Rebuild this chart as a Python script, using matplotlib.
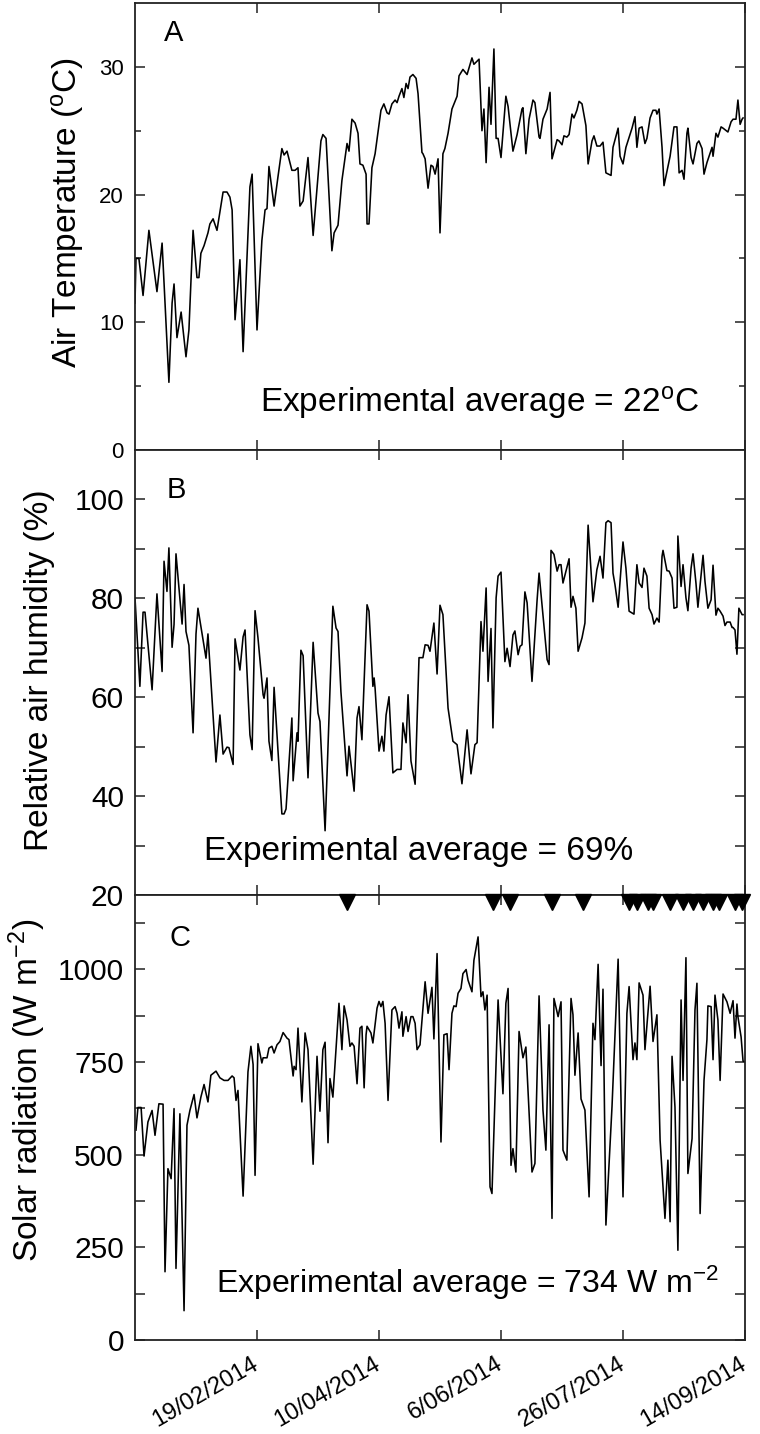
import matplotlib
matplotlib.use("Agg")
import matplotlib.pyplot as plt
from matplotlib.ticker import FixedLocator

plt.rcParams['font.family'] = ['Liberation Sans', 'DejaVu Sans']
plt.rcParams['mathtext.fontset'] = 'custom'
plt.rcParams['mathtext.rm'] = 'Liberation Sans'
plt.rcParams['mathtext.it'] = 'Liberation Sans:italic'
plt.rcParams['mathtext.bf'] = 'Liberation Sans:bold'

# ---------------- data (days since 31/12/2013) ----------------
temp_day = [0.0, 0.4, 1.6, 3.3, 5.7, 9.0, 11.1, 13.9, 15.2, 16.0, 17.2, 18.9, 20.9, 22.1,
            23.8, 25.4, 26.2, 27.0, 28.3, 29.9, 30.7, 32.0, 33.6, 36.1, 37.7, 38.9, 39.8,
            41.0, 43.0, 44.3, 47.1, 48.0, 50.0, 52.0, 53.3, 54.1, 54.9, 57.0, 58.6, 60.2,
            61.1, 62.3, 64.3, 65.6, 66.8, 67.6, 68.9, 70.9, 73.0, 76.2, 77.0, 78.3, 80.7,
            81.6, 83.2, 84.8, 86.9, 87.7, 88.9, 90.2, 91.4, 92.2, 93.4, 94.7, 95.1, 95.9,
            97.1, 98.4, 100.8, 102.0, 103.3, 104.1, 105.3, 106.6, 107.4, 108.2, 109.4,
            110.2, 111.1, 111.9, 112.7, 113.9, 115.2, 116.0, 117.6, 118.0, 118.9, 120.1,
            121.3, 122.1, 123.0, 124.2, 125.0, 126.2, 127.0, 128.3, 129.9, 132.0, 132.8,
            134.4, 136.1, 138.1, 138.9, 141.0, 142.2, 143.0, 143.9, 145.1, 145.9, 147.1,
            148.0, 148.8, 150.0, 152.0, 152.9, 154.9, 156.6, 158.6, 159.0, 160.2, 161.5,
            163.1, 163.9, 165.6, 166.0, 167.2, 168.9, 170.1, 170.9, 173.0, 173.8, 175.0,
            175.8, 177.0, 177.9, 179.1, 179.9, 181.1, 182.0, 183.2, 184.8, 185.7, 187.3,
            188.1, 189.3, 190.6, 191.8, 193.0, 195.1, 195.9, 198.0, 198.8, 200.0, 201.2,
            203.7, 204.9, 205.7, 206.6, 207.8, 209.0, 209.8, 211.1, 212.3, 213.5, 213.9,
            214.8, 216.0, 216.8, 219.3, 220.9, 222.1, 223.0, 224.2, 225.0, 226.2, 226.6,
            227.9, 228.7, 230.3, 231.1, 232.4, 233.2, 234.4, 236.5, 236.9, 238.1, 238.9,
            240.2, 241.0, 243.0, 244.3, 245.1, 246.3, 247.1, 248.0, 248.8, 249.2]
temp_val = [11.5, 15.0, 15.0, 12.1, 17.2, 12.4, 16.2, 5.3, 11.5, 13.0, 8.8, 10.8, 7.3, 9.4,
            17.2, 13.5, 13.5, 15.4, 16.0, 17.0, 17.7, 18.1, 17.2, 20.2, 20.2, 19.8, 18.8,
            10.2, 14.9, 7.7, 20.6, 21.6, 9.4, 16.4, 18.8, 18.9, 22.2, 19.1, 21.4, 23.6,
            23.1, 23.4, 21.9, 21.9, 22.1, 19.1, 19.5, 22.9, 16.8, 24.2, 24.7, 24.4, 15.6,
            17.0, 17.6, 21.1, 24.0, 23.4, 25.9, 25.6, 24.8, 22.4, 22.3, 21.6, 17.7, 17.7,
            22.1, 23.2, 26.6, 27.1, 26.4, 26.3, 27.1, 27.4, 27.2, 27.7, 28.3,
            27.6, 28.7, 28.3, 29.2, 29.4, 29.1, 27.9, 23.3, 23.2, 22.8, 20.5,
            22.3, 22.2, 21.6, 22.8, 17.0, 23.2, 23.6, 24.8, 26.7, 27.7, 29.3,
            29.8, 29.4, 30.7, 30.2, 30.6, 25.0, 26.7, 22.5, 28.4, 25.5, 31.4,
            24.4, 24.4, 22.9, 27.7, 26.9, 23.4, 24.7, 26.7, 26.8, 23.2, 25.9,
            27.4, 27.2, 24.5, 24.4, 25.9, 26.7, 28.0, 22.8, 24.3, 24.2, 23.9,
            24.6, 24.5, 24.7, 26.3, 26.0, 26.6, 27.3, 27.1, 25.4, 22.4, 24.2,
            24.6, 23.8, 23.8, 24.1, 21.7, 21.5, 23.7, 25.2, 23.0, 22.4, 23.7,
            25.2, 26.1, 23.7, 25.2, 25.3, 24.0, 24.4, 26.0, 26.6, 26.6, 26.3,
            26.7, 23.7, 20.7, 23.0, 25.3, 25.3, 21.7, 21.9, 21.2, 24.8, 25.2,
            22.9, 22.4, 24.0, 24.2, 23.6, 21.6, 22.5, 23.7, 23.0, 24.8, 24.5,
            25.3, 25.2, 24.9, 25.7, 25.9, 25.9, 27.4, 25.5, 25.9, 26.0]

rh_day = [0.0, 2.0, 3.3, 4.1, 7.0, 9.0, 11.1, 11.9, 13.1, 13.9, 15.2, 16.0, 16.8, 19.3, 20.1,
          20.9, 22.1, 23.8, 25.0, 25.8, 29.1, 29.9, 33.2, 34.8, 36.1, 37.7, 38.5, 40.2,
          41.0, 43.0, 44.3, 45.1, 47.1, 48.0, 49.2, 50.4, 52.5, 52.9, 54.1, 54.9, 56.1,
          57.0, 60.2, 61.1, 61.9, 64.3, 64.8, 66.4, 66.8, 68.0, 68.9, 70.9, 73.0, 75.0,
          75.8, 77.9, 81.1, 82.4, 83.2, 84.4, 86.9, 87.7, 89.8, 91.0, 91.8, 93.0, 95.1,
          95.9, 97.5, 98.0, 98.4, 100.0, 101.2, 102.0, 102.9, 104.1, 105.7, 107.4, 109.0,
          109.8, 111.1, 111.9, 113.1, 114.8, 116.4, 118.0, 118.9, 120.1, 120.9, 122.5,
          123.8, 125.0, 126.2, 128.3, 130.3, 132.0, 134.0, 136.1, 137.7, 139.3, 140.2,
          141.8, 142.6, 143.9, 144.7, 145.9, 146.7, 148.0, 148.8, 150.0, 151.6, 152.5,
          153.7, 154.9, 155.7, 157.0, 157.8, 158.6, 159.8, 160.7, 162.7, 164.8, 165.6,
          168.9, 169.7, 170.5, 171.7, 173.0, 173.8, 174.6, 175.4, 177.9, 178.7, 179.5,
          180.7, 181.6, 183.2, 184.4, 185.7, 187.7, 189.3, 190.6, 191.8, 193.0, 193.9,
          195.1, 195.9, 196.7, 198.0, 200.0, 201.2, 202.5, 204.5, 205.7, 206.6, 207.8,
          208.6, 209.8, 210.7, 211.9, 212.7, 213.9, 214.8, 216.0, 216.4, 218.0, 218.9,
          220.1, 220.9, 222.1, 222.5, 223.8, 224.6, 225.8, 226.6, 227.9, 228.7, 229.9,
          230.7, 232.8, 233.6, 234.8, 236.1, 236.9, 238.1, 238.9, 239.8, 241.0, 241.8,
          242.6, 243.9, 244.7, 245.1, 245.9, 246.7, 247.5, 248.8, 249.2]
rh_val = [80.1, 62.2, 77.2, 77.2, 61.5, 80.9, 65.2, 87.5, 81.4, 90.2, 70.1, 74.7, 89.0, 74.8,
          82.8, 73.3, 70.5, 52.8, 72.8, 78.0, 67.9, 72.8, 46.9, 56.4, 48.5, 49.9, 49.8, 46.4,
          71.8, 65.5, 72.2, 73.6, 52.4, 49.4, 77.5, 72.0, 60.5, 59.8, 63.9, 51.1, 47.2,
          62.0, 36.4, 36.4, 37.4, 55.8, 43.1, 52.8, 51.1, 69.5, 68.4, 43.7, 71.1, 56.8,
          55.1, 33.0, 78.4, 74.0, 73.3, 61.1, 44.1, 50.1, 41.0, 55.8, 58.1, 51.4, 78.7,
          77.4, 62.2, 63.9, 61.8, 49.1, 52.1, 49.1, 56.4, 60.1, 44.7, 45.4, 45.4,
          54.8, 50.8, 60.5, 47.1, 42.4, 68.0, 68.0, 70.6, 70.5, 69.3, 75.0,
          64.7, 78.6, 76.7, 57.8, 51.1, 50.4, 42.5, 53.4, 44.5, 50.4, 50.8,
          75.3, 69.3, 82.1, 63.2, 73.9, 53.8, 80.1, 84.5, 85.3, 67.2, 69.9,
          66.2, 72.6, 73.4, 68.6, 70.3, 70.6, 81.3, 79.1, 63.2, 79.7, 85.1,
          67.6, 66.6, 89.7, 88.9, 85.5, 86.8, 86.8, 83.1, 88.0, 78.2, 80.4,
          78.0, 69.3, 72.0, 75.0, 94.8, 79.3, 85.8, 88.5, 84.1, 95.3, 95.7,
          95.3, 85.1, 82.8, 78.2, 91.4, 86.1, 77.4, 76.8, 86.8, 83.1, 82.2,
          86.1, 84.5, 78.0, 76.7, 74.8, 76.0, 75.2, 88.5, 89.7, 85.6, 85.5,
          84.1, 78.0, 78.2, 92.6, 82.4, 86.8, 80.1, 77.5, 86.1, 89.0, 83.1,
          78.2, 88.7, 83.4, 78.0, 79.7, 86.7, 76.6, 78.0, 77.4, 76.4, 74.5,
          75.2, 75.2, 74.1, 74.1, 73.6, 68.7, 78.0, 76.7, 76.7]

rad_day = [0.4, 1.2, 2.5, 3.7, 5.3, 7.0, 8.2, 9.8, 11.5, 12.3, 13.5, 14.8, 16.0, 16.8, 18.4,
           20.1, 21.3, 22.5, 24.2, 25.4, 27.0, 28.3, 29.9, 31.1, 33.2, 34.8, 36.5, 38.1,
           39.8, 40.6, 41.4, 42.2, 44.3, 46.3, 47.5, 48.4, 49.2, 50.4, 52.0, 52.5, 54.1,
           54.9, 56.1, 57.0, 58.2, 59.4, 60.7, 62.3, 63.1, 64.8, 65.2, 66.0, 66.8, 68.4,
           69.7, 70.9, 73.0, 74.6, 75.8, 77.0, 77.9, 79.1, 79.9, 81.1, 83.6, 84.8, 85.7,
           86.9, 88.1, 88.9, 89.8, 91.0, 92.2, 93.0, 93.9, 94.7, 95.1, 96.7, 97.5, 99.2,
           100.0, 100.8, 101.6, 102.5, 103.7, 105.3, 106.6, 107.4, 108.2, 109.4, 109.8,
           111.1, 111.9, 113.1, 113.9, 114.8, 115.6, 116.8, 118.9, 120.1, 121.7, 122.5,
           123.8, 125.4, 126.6, 127.9, 128.7, 129.9, 130.7, 131.6, 132.4, 133.6, 134.4,
           135.7, 136.5, 138.1, 138.9, 140.6, 141.8, 142.6, 143.4, 144.3, 145.5, 146.3,
           148.8, 150.8, 152.0, 152.9, 154.1, 154.9, 156.1, 157.4, 159.0, 160.2, 162.7,
           163.9, 165.6, 167.2, 168.4, 169.7, 170.9, 171.7, 173.4, 174.6, 175.4, 177.0,
           178.7, 179.5, 180.3, 181.6, 182.8, 184.4, 186.1, 187.7, 188.5, 189.8, 191.0,
           191.8, 193.0, 195.5, 198.0, 200.0, 201.6, 202.5, 204.1, 204.9, 205.7, 206.6,
           208.2, 209.0, 211.1, 212.3, 213.9, 215.2, 217.2, 218.4, 219.3, 220.1, 221.3,
           222.5, 223.8, 224.6, 225.8, 226.6, 228.3, 229.5, 230.3, 231.6, 233.2, 234.4,
           234.8, 236.1, 236.9, 237.7, 238.9, 239.8, 241.0, 242.6, 243.9, 245.1, 245.9,
           246.7, 247.1, 248.4, 249.2, 250.0]
rad_val = [566, 627, 627, 496, 588, 619, 552, 637, 636, 184, 462, 435, 624, 193, 610,
           79, 579, 619, 662, 599, 655, 689, 642, 714, 725, 707, 700, 700,
           712, 707, 646, 673, 388, 723, 792, 743, 444, 799, 747, 761, 761,
           787, 792, 774, 796, 805, 829, 814, 810, 712, 738, 729, 841, 642,
           828, 783, 474, 765, 617, 783, 803, 532, 705, 655, 908, 783, 901,
           863, 792, 801, 792, 691, 841, 846, 680, 823, 846, 828, 801, 895,
           913, 899, 913, 854, 646, 890, 899, 881, 841, 885, 819,
           872, 832, 872, 872, 854, 783, 796, 966, 881, 951, 812,
           1042, 534, 823, 826, 729, 881, 901, 899, 935, 948, 988,
           999, 970, 939, 1024, 1087, 926, 939, 890, 930, 413, 395,
           917, 664, 908, 948, 471, 516, 453, 832, 761, 790, 453,
           476, 928, 620, 512, 850, 328, 921, 872, 912, 512, 485,
           921, 877, 714, 828, 650, 620, 386, 854, 810, 1013, 740,
           946, 310, 630, 1027, 386, 881, 953, 756, 801, 756, 963,
           930, 783, 954, 805, 877, 539, 328, 485, 319, 765, 628,
           242, 917, 700, 1031, 449, 543, 890, 962, 341, 700, 810,
           901, 899, 756, 930, 863, 700, 933, 912, 881, 915, 814,
           906, 872, 817, 752, 750]

# rain / irrigation events marked by triangles
event_day = [86.9, 146.7, 153.7, 170.9, 183.6, 202.5, 205.7, 210.2, 212.3, 219.3,
             224.6, 228.7, 232.8, 236.9, 239.3, 245.9, 248.8]

xtick_pos = [50, 100, 150, 200, 250]
xtick_lab = ['19/02/2014', '10/04/2014', '6/06/2014', '26/07/2014', '14/09/2014']

# ---------------- figure ----------------
W, H = 760, 1434
fig = plt.figure(figsize=(W / 100, H / 100), dpi=100)
L = 135 / W
Wd = (745 - 135) / W


def fy(px):
    return 1 - px / H


axA = fig.add_axes([L, fy(450), Wd, (450 - 3) / H])
axB = fig.add_axes([L, fy(895), Wd, 445 / H])
axC = fig.add_axes([L, fy(1340), Wd, 445 / H])

lw_line = 1.15
axA.plot(temp_day, temp_val, color='black', lw=lw_line)
axB.plot(rh_day, rh_val, color='black', lw=lw_line)
axC.plot(rad_day, rad_val, color='black', lw=lw_line)

axC.plot(event_day, [0.984] * len(event_day), linestyle='none', marker='v',
         markersize=11, color='black', transform=axC.get_xaxis_transform(),
         clip_on=False, zorder=5)

for ax in (axA, axB, axC):
    ax.set_xlim(0, 250)
    ax.xaxis.set_major_locator(FixedLocator(xtick_pos))
    for s in ax.spines.values():
        s.set_linewidth(1.3)
        s.set_color('#222222')
    ax.tick_params(axis='both', which='both', direction='in', top=True, right=True,
                   color='#222222', width=1.1)
    ax.tick_params(axis='x', which='major', length=7.5)

axA.set_ylim(0, 35)
axA.yaxis.set_major_locator(FixedLocator([0, 10, 20, 30]))
axA.yaxis.set_minor_locator(FixedLocator([5, 15, 25]))
axA.tick_params(axis='y', which='major', length=7.5, labelsize=16, pad=8)
axA.tick_params(axis='y', which='minor', length=4.5)

axB.set_ylim(20, 110)
axB.yaxis.set_major_locator(FixedLocator([20, 40, 60, 80, 100]))
axB.yaxis.set_minor_locator(FixedLocator([30, 50, 70, 90]))
axB.tick_params(axis='y', which='both', length=7.5, labelsize=21.5, pad=8)

axC.set_ylim(0, 1200)
axC.yaxis.set_major_locator(FixedLocator([0, 250, 500, 750, 1000]))
axC.yaxis.set_minor_locator(FixedLocator([125, 375, 625, 875, 1125]))
axC.tick_params(axis='y', which='both', length=7.5, labelsize=21.5, pad=8)

axA.tick_params(axis='x', labelbottom=False)
axB.tick_params(axis='x', labelbottom=False)
axC.set_xticks(xtick_pos)
axC.set_xticklabels(xtick_lab, rotation=30, ha='right', va='center',
                    rotation_mode='anchor', fontsize=17)
axC.tick_params(axis='x', pad=16)

# panel letters
axA.text(0.064, 0.933, 'A', transform=axA.transAxes, fontsize=21, ha='center', va='center')
axB.text(0.067, 0.91, 'B', transform=axB.transAxes, fontsize=21, ha='center', va='center')
axC.text(0.074, 0.903, 'C', transform=axC.transAxes, fontsize=21, ha='center', va='center')

# averages
axA.text(0.205, 0.0857, r'Experimental average = 22$^{\mathrm{o}}$C', transform=axA.transAxes,
         fontsize=24, ha='left', va='baseline')
axB.text(0.113, 0.0787, 'Experimental average = 69%', transform=axB.transAxes,
         fontsize=24, ha='left', va='baseline')
axC.text(0.133, 0.106, r'Experimental average = 734 W m$^{\mathrm{-2}}$', transform=axC.transAxes,
         fontsize=23, ha='left', va='baseline')

# y labels
fig.text(67 / W, fy(213), r'Air Temperature ($^{\mathrm{o}}$C)', rotation=90,
         fontsize=24, ha='center', va='center')
fig.text(40 / W, fy(670), 'Relative air humidity (%)', rotation=90,
         fontsize=24, ha='center', va='center')
fig.text(27 / W, fy(1090), r'Solar radiation (W m$^{\mathrm{-2}}$)', rotation=90,
         fontsize=24, ha='center', va='center')

fig.savefig('out.png', dpi=100)
